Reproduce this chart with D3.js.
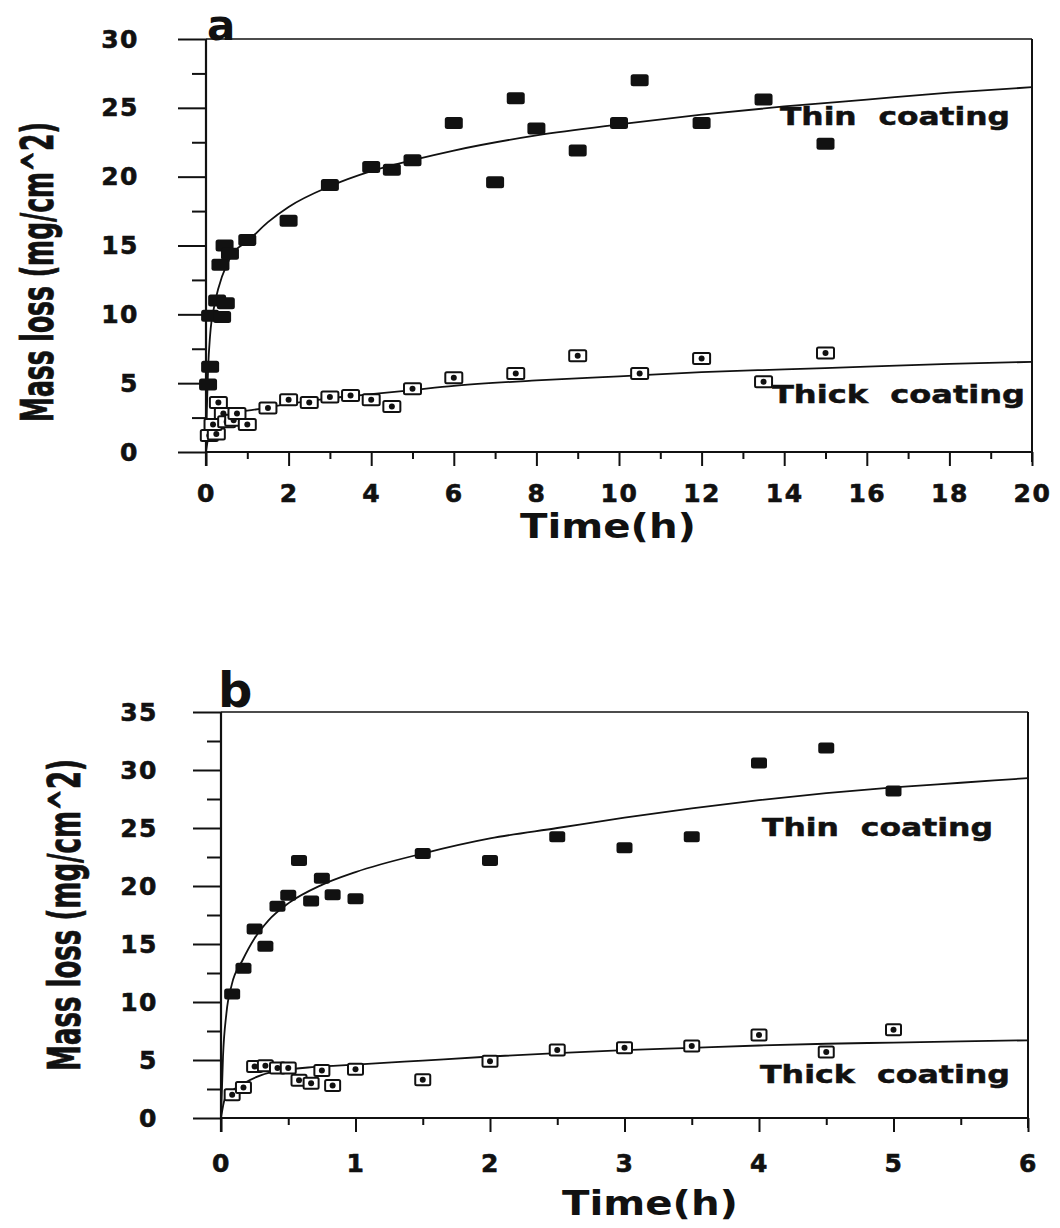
<!DOCTYPE html>
<html>
<head>
<meta charset="utf-8">
<script src="https://cdn.jsdelivr.net/npm/d3@7"></script>
<style>
  body { margin: 0; background: #fff; }
  svg { display: block; }
  .tick text { font-family: "DejaVu Sans", sans-serif; font-weight: bold; font-size: 25px; fill: #111; stroke: #111; stroke-width: 0.6; letter-spacing: 1.5px; }
  .tick line { stroke: #111; stroke-width: 2; }
</style>
</head>
<body>
<script>
// ---- panel a : 0-20 h ----
const thinTimeA = [0.05, 0.1, 0.1, 0.27, 0.39, 0.48, 0.35, 0.45, 0.58, 1, 2, 3, 4, 4.5, 5, 6, 7, 7.5, 8, 9, 10, 10.5, 12, 13.5, 15];
const thinLossA = [4.9, 6.2, 9.9, 11.0, 9.8, 10.8, 13.6, 15.0, 14.4, 15.4, 16.8, 19.4, 20.7, 20.5, 21.2, 23.9, 19.6, 25.7, 23.5, 21.9, 23.9, 27.0, 23.9, 25.6, 22.4];
const thickTimeA = [0.08, 0.25, 0.17, 0.3, 0.42, 0.5, 0.67, 0.75, 1, 1.5, 2, 2.5, 3, 3.5, 4, 4.5, 5, 6, 7.5, 9, 10.5, 12, 13.5, 15];
const thickLossA = [1.2, 1.3, 2.0, 3.6, 2.8, 2.2, 2.3, 2.8, 2.0, 3.2, 3.8, 3.6, 4.0, 4.1, 3.8, 3.3, 4.6, 5.4, 5.7, 7.0, 5.7, 6.8, 5.1, 7.2];
// fitted curves
const thinFitTimeA = [0, 0.02, 0.05, 0.1, 0.2, 0.3, 0.5, 0.7, 1, 1.5, 2, 3, 4, 5, 6, 8, 10, 12, 14, 16, 18, 20];
const thinFitLossA = [0, 3, 6, 8.5, 10.6, 11.9, 13.6, 14.6, 15.3, 16.7, 17.8, 19.3, 20.4, 21.2, 21.9, 23.0, 23.8, 24.5, 25.1, 25.6, 26.1, 26.5];
const thickFitTimeA = [0, 0.05, 0.1, 0.2, 0.3, 0.5, 0.7, 1, 2, 3, 4, 5, 6, 8, 10, 12, 14, 16, 18, 20];
const thickFitLossA = [0, 1.0, 1.6, 2.2, 2.5, 2.8, 2.9, 3.0, 3.5, 3.9, 4.2, 4.5, 4.8, 5.2, 5.5, 5.8, 6.0, 6.2, 6.4, 6.55];

// ---- panel b : 0-6 h ----
const thinTimeB = [0.083, 0.167, 0.25, 0.33, 0.42, 0.5, 0.58, 0.67, 0.75, 0.83, 1, 1.5, 2, 2.5, 3, 3.5, 4, 4.5, 5];
const thinLossB = [10.7, 12.9, 16.3, 14.8, 18.25, 19.2, 22.2, 18.7, 20.66, 19.25, 18.9, 22.8, 22.2, 24.25, 23.3, 24.25, 30.6, 31.9, 28.2];
const thickTimeB = [0.083, 0.167, 0.25, 0.33, 0.42, 0.5, 0.58, 0.67, 0.75, 0.83, 1, 1.5, 2, 2.5, 3, 3.5, 4, 4.5, 5];
const thickLossB = [2.0, 2.64, 4.45, 4.5, 4.3, 4.3, 3.25, 3.0, 4.1, 2.8, 4.2, 3.3, 4.9, 5.86, 6.06, 6.2, 7.15, 5.7, 7.6];
const thinFitTimeB = [0, 0.015, 0.04, 0.08, 0.16, 0.25, 0.35, 0.5, 0.75, 1, 1.5, 2, 2.5, 3, 3.5, 4, 4.5, 5, 5.5, 6];
const thinFitLossB = [0, 5.3, 9, 11.5, 13.6, 15.5, 17.0, 18.5, 20.1, 21.2, 22.8, 24.1, 25.0, 25.9, 26.7, 27.4, 28.0, 28.5, 28.9, 29.3];
const thickFitTimeB = [0, 0.03, 0.1, 0.17, 0.3, 0.45, 0.7, 1, 1.5, 2, 2.5, 3, 3.5, 4, 4.5, 5, 6];
const thickFitLossB = [0, 1.7, 2.5, 3.0, 3.7, 4.1, 4.4, 4.6, 4.95, 5.3, 5.6, 5.85, 6.05, 6.25, 6.4, 6.5, 6.7];

const xTicksA = d3.range(0, 21, 2), xMinorA = d3.range(1, 20, 2);
const yTicksA = d3.range(0, 31, 5), yMinorA = d3.range(2.5, 30, 5);
const xTicksB = d3.range(0, 7, 1), xMinorB = d3.range(0.5, 6, 1);
const yTicksB = d3.range(0, 36, 5), yMinorB = d3.range(2.5, 35, 5);

const svg = d3.select("body").append("svg")
  .attr("width", 1060)
  .attr("height", 1228);

ShowPanel({
  letter: "a", left: 206, right: 1032, top: 39, bottom: 452,
  xMax: 20, yMax: 30,
  xTicks: xTicksA, xMinor: xMinorA, yTicks: yTicksA, yMinor: yMinorA,
  yPad: 39, xPad: 18,
  thin: [thinTimeA, thinLossA], thick: [thickTimeA, thickLossA],
  thinFit: [thinFitTimeA, thinFitLossA], thickFit: [thickFitTimeA, thickFitLossA],
  mk: {tw: 18, th: 12, kw: 17, kh: 11},
  letterPos: [207, 40, 42],
  thinLabel: [780, 125, 230], thickLabel: [772, 403, 253],
  yTitle: [53, 272, 300], xTitle: [608, 538]
});

ShowPanel({
  letter: "b", left: 221, right: 1028, top: 712, bottom: 1118,
  xMax: 6, yMax: 35,
  xTicks: xTicksB, xMinor: xMinorB, yTicks: yTicksB, yMinor: yMinorB,
  yPad: 35, xPad: 22,
  thin: [thinTimeB, thinLossB], thick: [thickTimeB, thickLossB],
  thinFit: [thinFitTimeB, thinFitLossB], thickFit: [thickFitTimeB, thickFitLossB],
  mk: {tw: 16, th: 11, kw: 15, kh: 11},
  letterPos: [218, 707, 48],
  thinLabel: [762, 836, 231], thickLabel: [760, 1083, 250],
  yTitle: [80, 915, 312], xTitle: [650, 1215]
});

function ShowPanel(p) {
  const xscale = d3.scaleLinear().domain([0, p.xMax]).range([p.left, p.right]);
  const yscale = d3.scaleLinear().domain([0, p.yMax]).range([p.bottom, p.top]);
  const g = svg.append("g");

  // minor ticks
  g.append("g")
    .attr("transform", `translate(${p.left},0)`)
    .call(d3.axisLeft(yscale).tickValues(p.yMinor).tickSize(14).tickFormat(""))
    .call(a => a.select(".domain").remove());
  g.append("g")
    .attr("transform", `translate(0,${p.bottom})`)
    .call(d3.axisBottom(xscale).tickValues(p.xMinor).tickSize(7).tickFormat(""))
    .call(a => a.select(".domain").remove());

  // major ticks + labels
  g.append("g")
    .attr("transform", `translate(${p.left},0)`)
    .call(d3.axisLeft(yscale).tickValues(p.yTicks).tickSize(28).tickPadding(p.yPad).tickFormat(d3.format("d")))
    .call(a => a.select(".domain").remove());
  g.append("g")
    .attr("transform", `translate(0,${p.bottom})`)
    .call(d3.axisBottom(xscale).tickValues(p.xTicks).tickSize(14).tickPadding(p.xPad).tickFormat(d3.format("d")))
    .call(a => a.select(".domain").remove());

  // frame
  const frame = g.append("g").attr("stroke", "#111").attr("fill", "none");
  frame.append("line").attr("x1", p.left).attr("x2", p.right).attr("y1", p.top).attr("y2", p.top).attr("stroke-width", 1.6);
  frame.append("line").attr("x1", p.left).attr("x2", p.right).attr("y1", p.bottom).attr("y2", p.bottom).attr("stroke-width", 2);
  frame.append("line").attr("x1", p.left).attr("x2", p.left).attr("y1", p.top).attr("y2", p.bottom + 14).attr("stroke-width", 2.2);
  frame.append("line").attr("x1", p.right).attr("x2", p.right).attr("y1", p.top).attr("y2", p.bottom + 10).attr("stroke-width", 2);

  // fitted curves
  const line = d3.line()
    .x(d => xscale(d[0]))
    .y(d => yscale(d[1]))
    .curve(d3.curveMonotoneX);
  [p.thinFit, p.thickFit].forEach(f => {
    g.append("path")
      .datum(d3.zip(f[0], f[1]))
      .attr("d", line)
      .attr("fill", "none")
      .attr("stroke", "#111")
      .attr("stroke-width", 1.8);
  });

  // thick coating markers: open box with a dot
  const thick = g.selectAll(".thick")
    .data(d3.zip(p.thick[0], p.thick[1]))
    .enter()
    .append("g")
    .attr("transform", d => `translate(${xscale(d[0])},${yscale(d[1])})`);
  thick.append("rect")
    .attr("x", -p.mk.kw / 2).attr("y", -p.mk.kh / 2)
    .attr("width", p.mk.kw).attr("height", p.mk.kh)
    .attr("rx", 1.5)
    .attr("fill", "#fff").attr("stroke", "#111").attr("stroke-width", 2);
  thick.append("circle").attr("r", 3).attr("fill", "#111");

  // thin coating markers: filled box
  g.selectAll(".thin")
    .data(d3.zip(p.thin[0], p.thin[1]))
    .enter()
    .append("rect")
    .attr("x", d => xscale(d[0]) - p.mk.tw / 2)
    .attr("y", d => yscale(d[1]) - p.mk.th / 2)
    .attr("width", p.mk.tw).attr("height", p.mk.th)
    .attr("rx", 2.5)
    .attr("fill", "#111");

  const bold = "'DejaVu Sans', sans-serif";
  g.append("text")
    .attr("x", p.letterPos[0]).attr("y", p.letterPos[1])
    .attr("font-family", bold).attr("font-weight", "bold")
    .attr("font-size", p.letterPos[2]).attr("fill", "#111")
    .text(p.letter);

  [[p.thinLabel, "Thin  coating"], [p.thickLabel, "Thick  coating"]].forEach(([pos, txt]) => {
    g.append("text")
      .attr("x", pos[0]).attr("y", pos[1])
      .attr("textLength", pos[2]).attr("lengthAdjust", "spacingAndGlyphs")
      .attr("font-family", bold).attr("font-weight", "bold")
      .attr("font-size", 25).attr("fill", "#111")
      .attr("stroke", "#111").attr("stroke-width", 0.5)
      .style("white-space", "pre")
      .text(txt);
  });

  // y title: narrow bold text, squeezed to the reference length
  const yt = g.append("text")
    .attr("text-anchor", "middle")
    .attr("font-family", "'Liberation Sans Narrow', 'DejaVu Sans Condensed', sans-serif")
    .attr("font-weight", "bold").attr("font-size", 45).attr("fill", "#111")
    .attr("stroke", "#111").attr("stroke-width", 0.8)
    .text("Mass loss (mg/cm^2)");
  const len = yt.node().getComputedTextLength();
  yt.attr("transform", `translate(${p.yTitle[0]},${p.yTitle[1]}) rotate(-90) scale(${p.yTitle[2] / len},1)`);

  g.append("text")
    .attr("x", p.xTitle[0]).attr("y", p.xTitle[1])
    .attr("text-anchor", "middle")
    .attr("textLength", 176).attr("lengthAdjust", "spacingAndGlyphs")
    .attr("font-family", bold).attr("font-weight", "bold")
    .attr("font-size", 34).attr("fill", "#111")
    .text("Time(h)");
}
</script>
</body>
</html>
